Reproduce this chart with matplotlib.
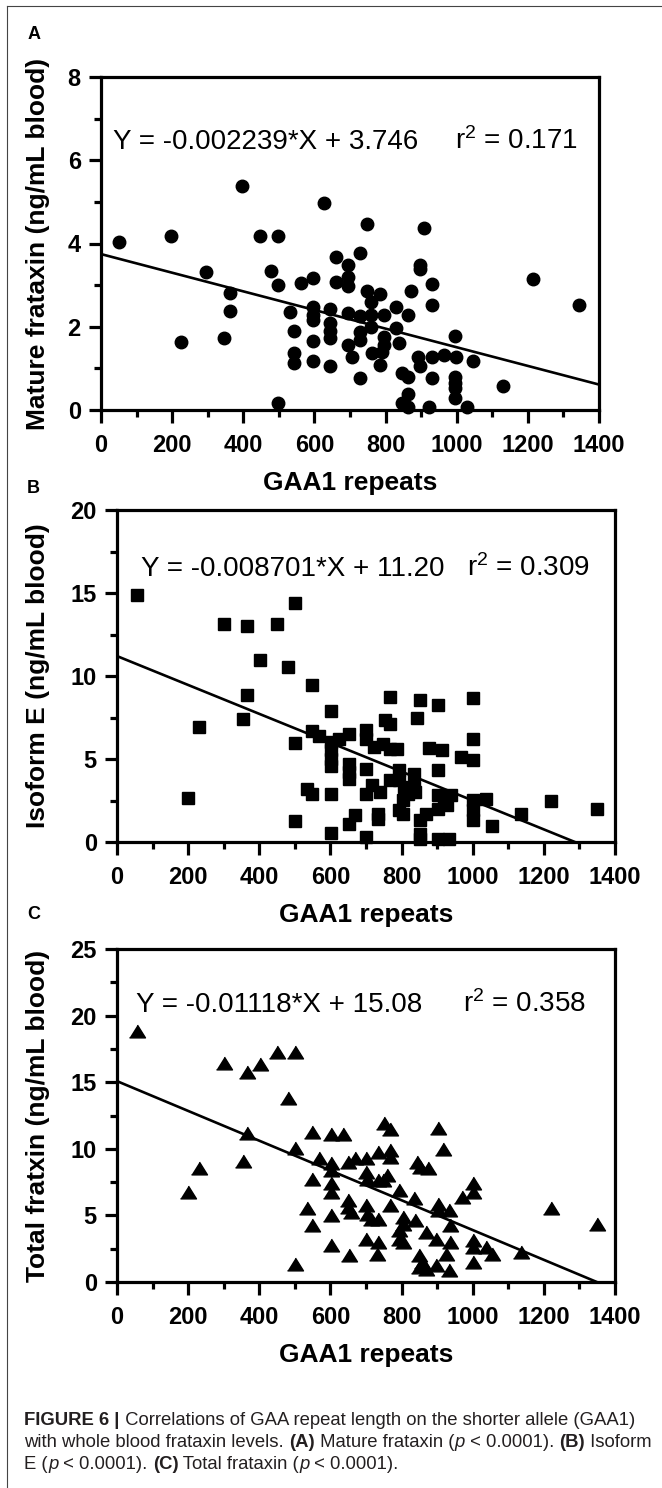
import matplotlib
matplotlib.use("Agg")
import matplotlib.pyplot as plt
from matplotlib.lines import Line2D
from matplotlib.ticker import MultipleLocator

plt.rcParams['font.family'] = ['Liberation Sans', 'DejaVu Sans']
plt.rcParams['mathtext.fontset'] = 'custom'
plt.rcParams['mathtext.rm'] = 'Liberation Sans'
plt.rcParams['mathtext.it'] = 'Liberation Sans:italic'
plt.rcParams['mathtext.bf'] = 'Liberation Sans:bold'

# ---- data ----
# A: mature frataxin vs GAA1 repeats
mature_x = [50, 197, 225, 296, 345, 362, 362, 396, 447, 497, 477, 497, 497, 530, 543, 543, 543,
            562, 595, 595, 595, 595, 595, 595, 628, 645, 645, 645, 645, 645, 662, 662, 695, 695,
            695, 695, 695, 707, 728, 728, 728, 728, 728, 747, 747, 760, 760, 760, 762, 785, 795,
            795, 795, 790, 785, 830, 830, 838, 863, 845, 863, 863, 845, 863, 872, 898, 898, 909,
            930, 930, 890, 898, 930, 930, 923, 965, 995, 998, 995, 995, 995, 995, 1030, 1047,
            1129, 1215, 1345]
mature_y = [4.03, 4.17, 1.64, 3.32, 1.72, 2.82, 2.39, 5.37, 4.18, 4.18, 3.33, 3.0, 0.18, 2.35, 1.9,
            1.36, 1.12, 3.04, 3.18, 2.48, 2.28, 2.16, 1.66, 1.18, 4.98, 2.42, 2.08, 1.9, 1.72,
            1.06, 3.67, 3.08, 3.48, 3.2, 2.98, 2.34, 1.56, 1.28, 3.76, 2.26, 1.88, 1.68, 0.78,
            4.47, 2.86, 2.6, 2.28, 2.0, 1.38, 2.78, 2.28, 1.76, 1.56, 1.4, 1.08, 2.48, 1.98, 1.6,
            2.28, 0.88, 0.8, 0.38, 0.18, 0.08, 2.87, 3.48, 3.38, 4.38, 3.03, 2.52, 1.28, 1.06,
            1.28, 0.78, 0.08, 1.32, 1.78, 1.28, 0.8, 0.64, 0.52, 0.28, 0.08, 1.18, 0.58, 3.14,
            2.52]

# B: isoform E vs GAA1 repeats
isoform_x = [56, 301, 366, 450, 501, 401, 480, 548, 366, 353, 230, 201, 501, 501, 601, 548, 568,
             601, 601, 601, 601, 601, 601, 533, 548, 623, 651, 651, 651, 651, 651, 668, 701, 701,
             701, 701, 701, 718, 733, 733, 738, 723, 753, 768, 768, 748, 768, 788, 793, 768, 793,
             806, 818, 803, 793, 803, 836, 836, 838, 851, 843, 853, 853, 868, 853, 878, 903, 913,
             903, 903, 903, 918, 928, 903, 933, 938, 968, 1001, 1001, 1001, 1001, 1001, 1001,
             1036, 1053, 1135, 1221, 1348]
isoform_y = [14.88, 13.14, 13.0, 13.14, 14.38, 10.99, 10.53, 9.43, 8.87, 7.42, 6.92, 2.65, 5.96,
             1.26, 7.92, 6.68, 6.36, 6.02, 5.52, 5.02, 4.55, 2.91, 0.54, 3.21, 2.91, 6.22, 6.52,
             4.71, 4.21, 3.81, 1.1, 1.64, 6.72, 6.22, 4.41, 2.91, 0.3, 3.41, 1.71, 1.4, 3.01,
             5.72, 7.36, 8.73, 7.12, 5.92, 5.62, 5.62, 4.31, 3.71, 3.71, 3.31, 2.91, 2.51, 1.91,
             1.71, 4.11, 3.31, 3.01, 8.57, 7.46, 1.3, 0.5, 1.71, 0.2, 5.66, 8.28, 5.56, 4.31,
             2.81, 2.01, 2.51, 2.21, 0.2, 0.2, 2.81, 5.12, 8.67, 6.22, 4.96, 2.51, 1.91, 1.3,
             2.61, 0.96, 1.71, 2.45, 1.97]

# C: total frataxin vs GAA1 repeats
total_x = [56, 301, 366, 401, 450, 501, 480, 366, 353, 230, 201, 501, 501, 548, 601, 636, 568,
           548, 533, 548, 601, 601, 601, 601, 601, 601, 648, 668, 648, 648, 658, 651, 701, 701,
           703, 701, 703, 701, 713, 733, 733, 733, 733, 730, 751, 768, 768, 768, 758, 748, 768,
           793, 803, 803, 793, 793, 803, 836, 838, 843, 853, 873, 868, 848, 858, 848, 868, 898,
           898, 903, 916, 903, 903, 933, 936, 936, 926, 933, 970, 1001, 1001, 1001, 1001, 1001,
           1036, 1053, 1135, 1221, 1348]
total_y = [18.88, 16.42, 15.8, 16.35, 17.3, 17.3, 13.84, 11.16, 9.08, 8.53, 6.77, 10.03, 1.33,
           11.28, 11.11, 11.11, 9.28, 7.77, 5.52, 4.26, 8.9, 8.4, 7.4, 6.77, 5.02, 2.76, 9.03,
           9.28, 6.14, 5.64, 5.27, 2.06, 9.28, 8.27, 7.77, 5.77, 5.14, 3.26, 4.76, 9.78, 7.65,
           4.76, 3.01, 2.13, 11.91, 11.46, 9.9, 9.4, 8.02, 7.65, 5.77, 6.9, 4.89, 4.39, 3.89,
           3.26, 3.01, 6.27, 4.64, 9.03, 8.65, 8.53, 3.76, 2.01, 1.5, 1.13, 1.0, 1.25, 3.26,
           11.53, 9.95, 5.89, 5.39, 5.39, 4.26, 3.01, 2.13, 0.88, 6.39, 7.4, 6.77, 3.13, 2.63,
           1.5, 2.63, 2.13, 2.26, 5.52, 4.39]

# linear fits as printed on the panels
slopes = [-0.002239, -0.008701, -0.01118]
intercepts = [3.746, 11.20, 15.08]
eq_texts = ["Y = -0.002239*X + 3.746", "Y = -0.008701*X + 11.20", "Y = -0.01118*X + 15.08"]
r2_texts = ["0.171", "0.309", "0.358"]

y_labels = ["Mature frataxin (ng/mL blood)", "Isoform E (ng/mL blood)",
            "Total fratxin (ng/mL blood)"]
panel_letters = ["A", "B", "C"]
x_label = "GAA1 repeats"

# ---- layout (pixels of the 662x1488 page) ----
W, H = 662, 1488


def box(left, top, right, bottom):
    return [left / W, 1 - bottom / H, (right - left) / W, (bottom - top) / H]


tri = [(-1, -0.8), (1, -0.8), (0, 0.8)]
panels = [
    dict(rect=box(101, 77, 599, 410), x=mature_x, y=mature_y, ymax=8, major=2, minor=1,
         marker='o', ms=9, eq_pos=(35, 6.26), r2_pos=(995, 6.26), ylab_x=-0.102,
         letter_pos=(28, 39)),
    dict(rect=box(117, 510, 615, 842), x=isoform_x, y=isoform_y, ymax=20, major=5, minor=2.5,
         marker='s', ms=9, eq_pos=(68, 16.05), r2_pos=(983, 16.05), ylab_x=-0.134,
         letter_pos=(27, 493)),
    dict(rect=box(117, 949, 615, 1282), x=total_x, y=total_y, ymax=25, major=5, minor=2.5,
         marker=tri, ms=11.5, eq_pos=(53, 20.3), r2_pos=(973, 20.3), ylab_x=-0.134,
         letter_pos=(27, 919)),
]

fig = plt.figure(figsize=(W / 100, H / 100), dpi=100)

for i, p in enumerate(panels):
    ax = fig.add_axes(p['rect'])
    ax.plot(p['x'], p['y'], linestyle='none', marker=p['marker'], ms=p['ms'],
            color='black', mec='black', clip_on=False, zorder=3)

    # regression line, stops where it meets y = 0
    x_end = min(1400, intercepts[i] / -slopes[i])
    ax.plot([0, x_end], [intercepts[i], intercepts[i] + slopes[i] * x_end],
            color='black', lw=1.9, zorder=2)

    ax.set_xlim(0, 1400)
    ax.set_ylim(0, p['ymax'])
    ax.xaxis.set_major_locator(MultipleLocator(200))
    ax.xaxis.set_minor_locator(MultipleLocator(100))
    ax.yaxis.set_major_locator(MultipleLocator(p['major']))
    ax.yaxis.set_minor_locator(MultipleLocator(p['minor']))
    for s in ax.spines.values():
        s.set_linewidth(2.3)
    ax.tick_params(which='major', length=9, width=2.3, labelsize=17)
    ax.tick_params(which='minor', length=5, width=2.3)
    ax.tick_params(axis='x', which='major', pad=8.5)
    ax.tick_params(axis='y', which='major', pad=5.5)
    for lab in ax.get_xticklabels() + ax.get_yticklabels():
        lab.set_fontweight('bold')

    ax.set_xlabel(x_label, fontsize=19, fontweight='bold')
    ax.xaxis.set_label_coords(0.5, -0.183)
    ax.set_ylabel(y_labels[i], fontsize=19, fontweight='bold')
    ax.yaxis.set_label_coords(p['ylab_x'], 0.5)

    ax.text(p['eq_pos'][0], p['eq_pos'][1], eq_texts[i], fontsize=20, va='baseline')
    ax.text(p['r2_pos'][0], p['r2_pos'][1], r'r$^{2}$ = ' + r2_texts[i], fontsize=20,
            va='baseline')

    lx, ly = p['letter_pos']
    fig.text(lx / W, 1 - ly / H, panel_letters[i], fontsize=13, fontweight='bold',
             va='baseline')

# page frame (top and left rule)
fig.add_artist(Line2D([7 / W, 1], [1 - 6 / H, 1 - 6 / H], color='#444444', lw=0.8))
fig.add_artist(Line2D([7 / W, 7 / W], [0, 1 - 6 / H], color='#444444', lw=0.8))

# caption with mixed styles
cap = fig.add_axes([0, 0, 1, 1])
cap.axis('off')
cap.set_xlim(0, W)
cap.set_ylim(H, 0)

caption_lines = [
    [("FIGURE 6 |", 'bold'), (" Correlations of GAA repeat length on the shorter allele (GAA1)", 'normal')],
    [("with whole blood frataxin levels. ", 'normal'), ("(A)", 'bold'),
     (" Mature frataxin (", 'normal'), ("p", 'italic'), (" < 0.0001). ", 'normal'),
     ("(B)", 'bold'), (" Isoform", 'normal')],
    [("E (", 'normal'), ("p", 'italic'), (" < 0.0001). ", 'normal'), ("(C)", 'bold'),
     (" Total frataxin (", 'normal'), ("p", 'italic'), (" < 0.0001).", 'normal')],
]
caption_baselines = [1425, 1447, 1469]


def style(kind):
    kw = dict(fontsize=13.3, color='#231f20')
    if kind == 'bold':
        kw['fontweight'] = 'bold'
    elif kind == 'italic':
        kw['fontstyle'] = 'italic'
    return kw


for parts, yb in zip(caption_lines, caption_baselines):
    t = cap.text(24.5, yb, parts[0][0], va='baseline', **style(parts[0][1]))
    for s, kind in parts[1:]:
        t = cap.annotate(s, xycoords=t, xy=(1, 0), va='bottom', **style(kind))

fig.savefig("out.png", dpi=100)
